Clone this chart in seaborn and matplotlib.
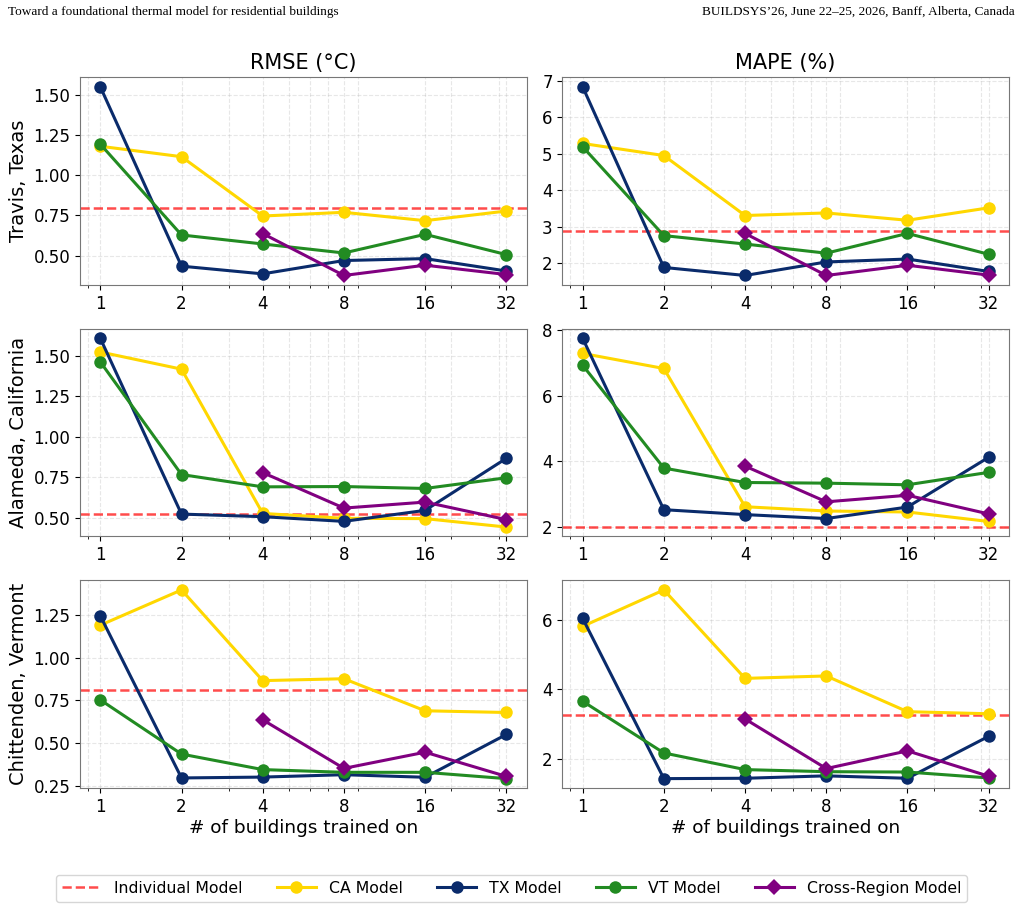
import numpy as np
import pandas as pd
import matplotlib
matplotlib.use('Agg')
import matplotlib.pyplot as plt
import seaborn as sns
from matplotlib.ticker import MultipleLocator

# number of buildings trained on
buildings = [1, 2, 4, 8, 16, 32]
cross_buildings = [4, 8, 16, 32]

regions = ['Travis, Texas', 'Alameda, California', 'Chittenden, Vermont']
metrics = ['RMSE (°C)', 'MAPE (%)']

# RMSE values, one list per region
rmse_ca = [[1.18, 1.115, 0.746, 0.769, 0.717, 0.777],
           [1.522, 1.416, 0.526, 0.496, 0.494, 0.442],
           [1.191, 1.398, 0.866, 0.877, 0.689, 0.679]]
rmse_tx = [[1.55, 0.434, 0.386, 0.469, 0.481, 0.404],
           [1.606, 0.522, 0.506, 0.477, 0.545, 0.866],
           [1.246, 0.295, 0.300, 0.314, 0.299, 0.550]]
rmse_vt = [[1.193, 0.628, 0.572, 0.516, 0.632, 0.506],
           [1.461, 0.766, 0.690, 0.692, 0.680, 0.746],
           [0.753, 0.435, 0.344, 0.328, 0.328, 0.291]]
rmse_cross = [[0.637, 0.376, 0.440, 0.382],
              [0.778, 0.559, 0.596, 0.488],
              [0.636, 0.351, 0.446, 0.304]]
rmse_indiv = [0.798, 0.522, 0.813]

# MAPE values, one list per region
mape_ca = [[5.28, 4.95, 3.31, 3.38, 3.18, 3.52],
           [7.29, 6.83, 2.61, 2.48, 2.45, 2.16],
           [5.82, 6.87, 4.32, 4.39, 3.36, 3.30]]
mape_tx = [[6.83, 1.89, 1.67, 2.04, 2.12, 1.78],
           [7.75, 2.52, 2.37, 2.25, 2.60, 4.12],
           [6.05, 1.43, 1.44, 1.51, 1.44, 2.65]]
mape_vt = [[5.19, 2.76, 2.53, 2.28, 2.82, 2.25],
           [6.93, 3.79, 3.35, 3.33, 3.28, 3.66],
           [3.66, 2.17, 1.69, 1.63, 1.62, 1.45]]
mape_cross = [[2.82, 1.67, 1.95, 1.68],
              [3.85, 2.76, 2.96, 2.39],
              [3.15, 1.72, 2.23, 1.50]]
mape_indiv = [2.90, 1.99, 3.26]

colors = {'CA Model': '#FFD700', 'TX Model': '#0a2b6b',
          'VT Model': '#228B22', 'Cross-Region Model': '#800080'}

fig, axes = plt.subplots(3, 2, figsize=(10.23, 9.10), dpi=100)
plt.subplots_adjust(left=0.0782, right=0.9863, top=0.915, bottom=0.134,
                    hspace=0.212, wspace=0.08)

fig.text(0.008, 0.987, 'Toward a foundational thermal model for residential buildings',
         family='Liberation Serif', fontsize=9.5, ha='left', va='center')
fig.text(0.992, 0.987, 'BUILDSYS\u201926, June 22\u201325, 2026, Banff, Alberta, Canada',
         family='Liberation Serif', fontsize=9.5, ha='right', va='center')

all_data = [(rmse_ca, rmse_tx, rmse_vt, rmse_cross, rmse_indiv),
            (mape_ca, mape_tx, mape_vt, mape_cross, mape_indiv)]

for r in range(3):
    for c in range(2):
        ax = axes[r, c]
        ca, tx, vt, cross, indiv = all_data[c]
        ax.axhline(indiv[r], color='red', alpha=0.7, linestyle='--', linewidth=1.8,
                   label='Individual Model')
        for name, vals in [('CA Model', ca), ('TX Model', tx), ('VT Model', vt)]:
            sns.lineplot(x=buildings, y=vals[r], ax=ax, color=colors[name], marker='o',
                         markersize=9, linewidth=2.2, markeredgewidth=0, label=name)
        sns.lineplot(x=cross_buildings, y=cross[r], ax=ax, color=colors['Cross-Region Model'],
                     marker='D', markersize=8.5, linewidth=2.2, markeredgewidth=0,
                     label='Cross-Region Model')
        ax.set_xscale('log')
        ax.set_xticks(buildings, labels=[str(b) for b in buildings])
        ax.grid(True, which='both', linestyle='--', alpha=0.3)
        ax.tick_params(labelsize=12)
        for s in ax.spines.values():
            s.set_color('#777777')
        ax.get_legend().remove()
        ax.set_xlabel('')
        ax.set_ylabel('')
        if c == 0:
            ax.yaxis.set_major_locator(MultipleLocator(0.25))
            ax.yaxis.set_major_formatter(matplotlib.ticker.FormatStrFormatter('%.2f'))
            ax.set_ylabel(regions[r], fontsize=14)
        else:
            ax.yaxis.set_major_locator(MultipleLocator(1 if r == 0 else 2))
        if r == 0:
            ax.set_title(metrics[c], fontsize=15)
        if r == 2:
            ax.set_xlabel('# of buildings trained on', fontsize=13.3, labelpad=2)

handles, labels = axes[0, 0].get_legend_handles_labels()
fig.legend(handles, labels, loc='lower center', ncol=5, fontsize=11.3,
           bbox_to_anchor=(0.5, 0.0), frameon=True, handlelength=2.5,
           columnspacing=2.2)

plt.savefig('out.png', dpi=100)
